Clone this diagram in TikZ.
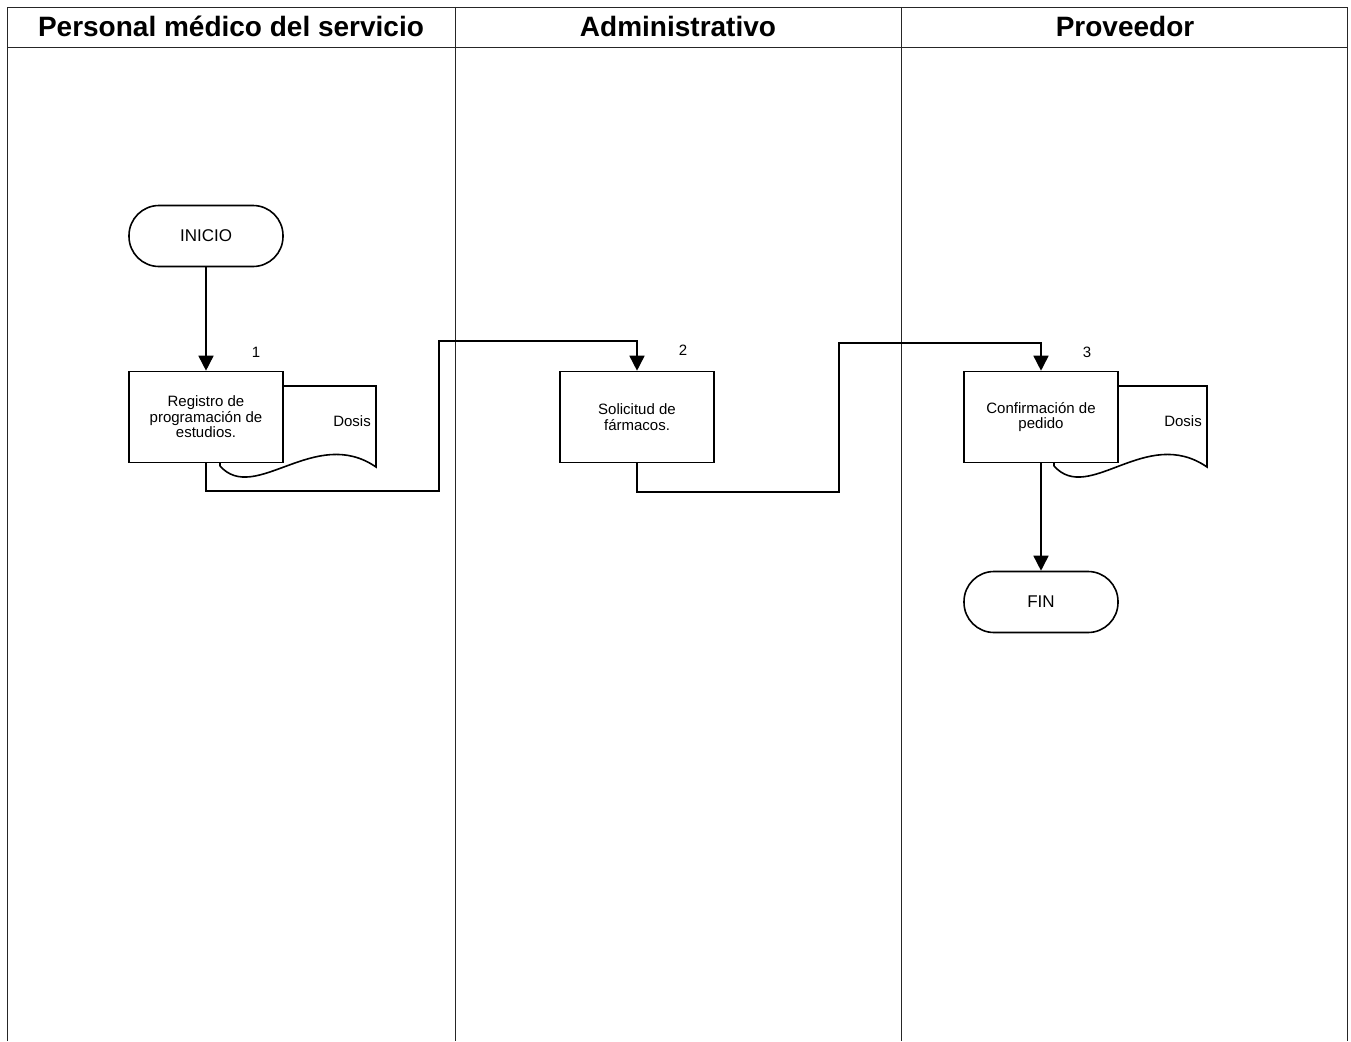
\documentclass[tikz,border=0pt]{standalone}
\usepackage{fontspec}
\setmainfont{Liberation Sans}
\usepackage{tikz}
\usetikzlibrary{arrows.meta, positioning, calc}

\begin{document}
\begin{tikzpicture}[
        x=1pt, y=-1pt,
        lane/.style={line width=0.9pt, draw=black!85},
        header/.style={font=\fontsize{28}{30}\selectfont\bfseries},
        process/.style={rectangle, draw, line width=1.6pt, fill=white, minimum width=154pt, minimum height=91pt, inner sep=2pt, align=center, font=\fontsize{15}{15.5}\selectfont},
        terminal/.style={rectangle, rounded corners=30pt, draw, line width=1.6pt, fill=white, minimum width=154pt, minimum height=61pt, font=\fontsize{17}{18}\selectfont},
        stepnum/.style={font=\fontsize{15}{16}\selectfont},
        flow/.style={line width=1.6pt, -{Triangle[length=15pt, width=15pt]}},
        link/.style={line width=1.6pt}
    ]
        \useasboundingbox (0,0) rectangle (1351,1041);

        % carriles
        \draw[lane] (7,1041) -- (7,7) -- (1347,7) -- (1347,1041);
        \draw[lane] (7,47) -- (1347,47);
        \draw[lane] (455,7) -- (455,1041);
        \draw[lane] (901,7) -- (901,1041);

        \node[header] (medico) at (231,26) {Personal médico del servicio};
        \node[header] (admin) at (678,26) {Administrativo};
        \node[header] (prov) at (1125,26) {Proveedor};

        % documentos
        \foreach \xa/\xb in {220/376, 1054/1207} {
            \draw[line width=1.6pt, fill=white] (\xa,466) -- (\xa,386) -- (\xb,386) -- (\xb,467)
                .. controls (\xb-61,425) and (\xa+35,505) .. (\xa,466);
        }
        \node[font=\fontsize{15}{16}\selectfont] (dosisA) at (352,421) {Dosis};
        \node[font=\fontsize{15}{16}\selectfont] (dosisB) at (1183,421) {Dosis};

        % nodos
        \node[terminal] (inicio) at (206,236) {INICIO};
        \node[process] (registro) at (206,417) {Registro de\\programación de\\estudios.};
        \node[process] (solicitud) at (637,417) {Solicitud de\\fármacos.};
        \node[process] (confirma) at (1041,417) {Confirmación de\\pedido};
        \node[terminal] (fin) at (1041,602) {FIN};

        \node[stepnum] (num1) at (256,352) {1};
        \node[stepnum] (num2) at (683,350) {2};
        \node[stepnum] (num3) at (1087,352) {3};

        \coordinate (c1a) at (439,491);
        \coordinate (c1b) at (439,341);
        \coordinate (c2a) at (839,492);
        \coordinate (c2b) at (839,343);

        % conectores
        \draw[flow] (inicio) -- (registro);
        \draw[flow] (registro.south) |- (c1a) -- (c1b) -| (solicitud.north);
        \draw[flow] (solicitud.south) |- (c2a) -- (c2b) -| (confirma.north);
        \draw[flow] (confirma) -- (fin);
    \end{tikzpicture}
\end{document}
